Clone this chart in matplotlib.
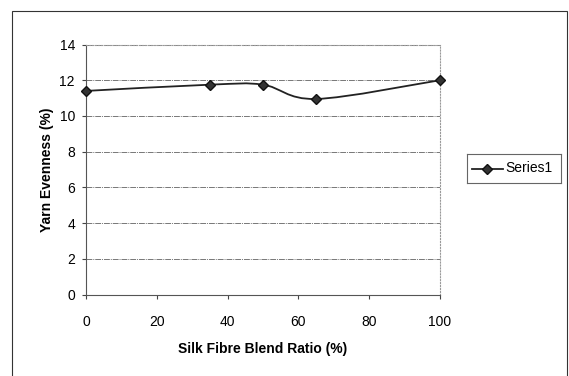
import numpy as np
import matplotlib.pyplot as plt
from matplotlib.path import Path
from matplotlib.patches import PathPatch, Rectangle

plt.rcParams['font.family'] = ['Liberation Sans', 'DejaVu Sans']

# data
blend_ratio = [0, 35, 50, 65, 100]
evenness = [11.4, 11.75, 11.75, 10.95, 12.0]
series_name = 'Series1'
x_ticks = [0, 20, 40, 60, 80, 100]
y_ticks = [0, 2, 4, 6, 8, 10, 12, 14]


def smooth_path(xs, ys, tension=1 / 6):
    # Excel-style smoothed line: cubic bezier through points (Catmull-Rom)
    pts = np.column_stack([xs, ys]).astype(float)
    verts = [pts[0]]
    codes = [Path.MOVETO]
    n = len(pts)
    for i in range(n - 1):
        p0 = pts[max(i - 1, 0)]
        p1 = pts[i]
        p2 = pts[i + 1]
        p3 = pts[min(i + 2, n - 1)]
        c1 = p1 + (p2 - p0) * tension
        c2 = p2 - (p3 - p1) * tension
        verts += [c1, c2, p2]
        codes += [Path.CURVE4] * 3
    return Path(verts, codes)


W, H = 569, 376
fig = plt.figure(figsize=(W / 100, H / 100), dpi=100)
ax = fig.add_axes([86 / W, 1 - 294.5 / H, (440 - 86) / W, (294.5 - 44.5) / H])

ax.add_patch(PathPatch(smooth_path(blend_ratio, evenness), fill=False,
                       edgecolor='#222222', lw=1.3, zorder=3))
ax.plot(blend_ratio, evenness, linestyle='none', marker='D', markersize=5,
        color='#333333', markeredgecolor='#111111', zorder=4, clip_on=False)

ax.set_xlim(0, 100)
ax.set_ylim(0, 14)
ax.set_xticks(x_ticks)
ax.set_yticks(y_ticks)
ax.tick_params(labelsize=10, length=3, width=0.8, color='#444444')
ax.tick_params(axis='x', pad=12)
ax.tick_params(axis='y', pad=5)
ax.yaxis.grid(True, color='#777777', lw=0.7, linestyle=(0, (6, 1, 1, 1)))
for side in ['top', 'right']:
    ax.spines[side].set_color('#999999')
    ax.spines[side].set_linestyle(':')
for side in ['left', 'bottom']:
    ax.spines[side].set_color('#555555')
    ax.spines[side].set_linewidth(0.8)

ax.set_xlabel('Silk Fibre Blend Ratio (%)', fontsize=10, fontweight='bold', labelpad=9)
ax.set_ylabel('Yarn Evenness (%)', fontsize=10, fontweight='bold', labelpad=4)

# legend drawn as a box on the right
leg_ax = fig.add_axes([467 / W, 1 - 183 / H, 94 / W, 29 / H])
leg_ax.set_xlim(0, 1)
leg_ax.set_ylim(0, 1)
leg_ax.set_xticks([])
leg_ax.set_yticks([])
for s in leg_ax.spines.values():
    s.set_color('#666666')
    s.set_linewidth(0.8)
leg_ax.plot([0.05, 0.38], [0.5, 0.5], color='#222222', lw=1.3)
leg_ax.plot([0.215], [0.5], marker='D', markersize=5, color='#333333',
            markeredgecolor='#111111')
leg_ax.text(0.41, 0.5, series_name, fontsize=10, va='center', ha='left')

# outer chart border
fig.patches.append(Rectangle((12 / W, -0.01), 555 / W, 1 - 11 / H + 0.01,
                             transform=fig.transFigure, fill=False,
                             edgecolor='#333333', lw=0.8))

fig.savefig('out.png', dpi=100)
